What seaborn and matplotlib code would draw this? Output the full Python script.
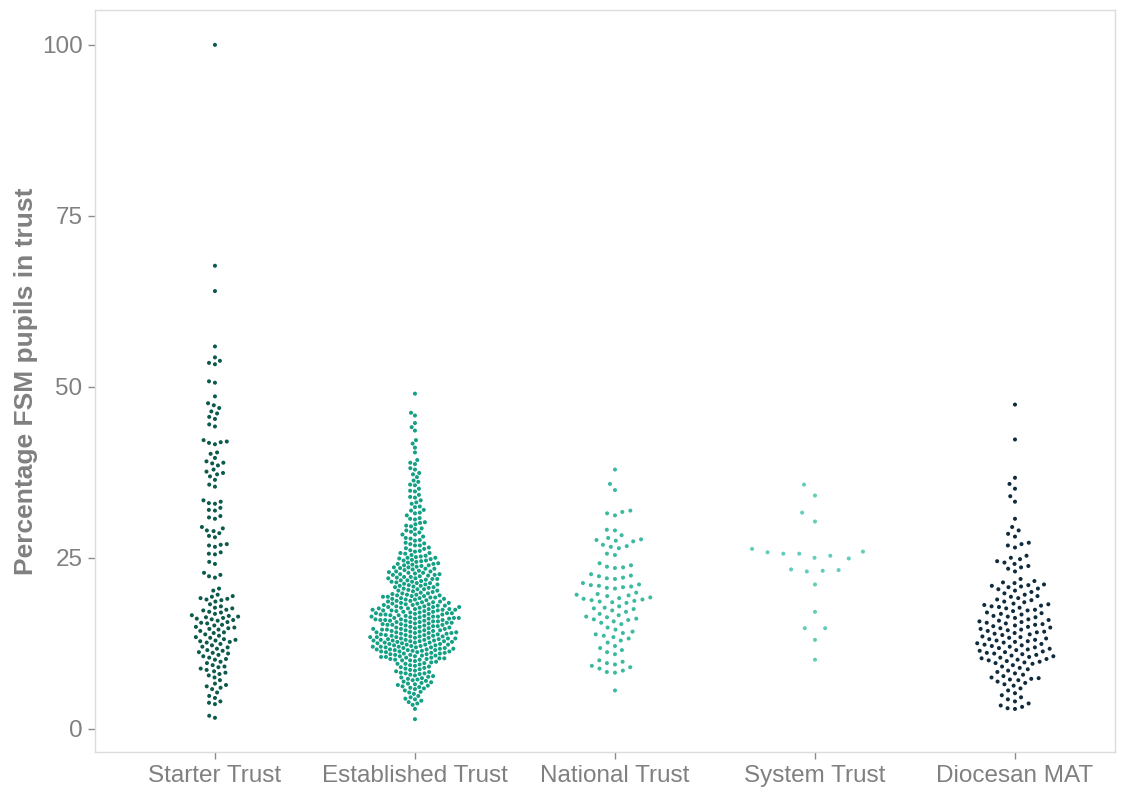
import numpy as np
import pandas as pd
import matplotlib
matplotlib.use("Agg")
import matplotlib.pyplot as plt
import seaborn as sns

# Percentage of FSM pupils per trust, grouped by trust type
categories = ["Starter Trust", "Established Trust", "National Trust", "System Trust", "Diocesan MAT"]
colours = ["#0c5a4b", "#13a084", "#3bbaa0", "#62cdb9", "#0f2b3e"]

starter = [
    100.0, 67.7, 64.0, 55.9, 54.3, 53.8, 53.5, 53.3, 50.8, 50.6, 48.6, 47.6, 47.3, 46.9,
    46.4, 46.1, 45.6, 45.3, 44.5, 44.2, 42.2, 42.0, 41.9, 41.8, 41.6, 40.4, 40.2, 39.6,
    39.1, 38.9, 38.8, 38.5, 37.9, 37.6, 37.4, 37.2, 36.9, 36.4, 35.7, 35.4, 33.4, 33.2,
    33.0, 32.9, 32.3, 32.0, 31.9, 31.1, 30.9, 30.7, 29.5, 29.3, 29.0, 28.9, 28.6, 28.2,
    28.0, 27.0, 26.9, 26.8, 26.6, 25.8, 25.6, 25.5, 24.4, 24.1, 22.8, 22.5, 22.3, 22.1,
    20.5, 20.2, 19.6, 19.4, 19.3, 19.1, 19.0, 18.9, 18.8, 18.6, 17.9, 17.6, 17.4, 17.3,
    17.1, 17.0, 16.8, 16.6, 16.5, 16.4, 16.2, 16.1, 16.0, 15.9, 15.8, 15.6, 15.4, 15.2,
    15.1, 14.9, 14.8, 14.7, 14.6, 14.5, 14.3, 14.1, 13.8, 13.6, 13.3, 13.1, 13.0, 12.9,
    12.8, 12.6, 12.4, 12.2, 12.0, 11.9, 11.7, 11.5, 11.4, 11.2, 11.0, 10.8, 10.6, 10.4,
    10.2, 10.1, 9.8, 9.6, 9.3, 9.0, 8.8, 8.6, 8.4, 8.2, 8.0, 7.8, 7.5, 7.1, 6.6, 6.4,
    6.2, 6.0, 5.8, 5.3, 4.8, 4.5, 4.0, 3.8, 3.6, 1.9, 1.6, 17.7, 16.3, 14.0, 12.7, 11.1,
    18.2, 13.4, 9.1, 15.5,
]

established_upper = [
    49.0, 46.2, 45.8, 44.7, 44.1, 43.6, 42.2, 41.7, 41.1, 40.4, 39.3, 38.9, 38.7, 38.1,
    37.9, 37.4, 37.2, 36.8, 36.3, 36.1, 35.7, 35.6, 35.1, 34.8, 34.7, 34.2, 33.9, 33.8,
    33.4, 33.1, 32.9, 32.5, 32.4, 32.0, 31.9, 31.6, 31.5, 31.2, 30.8, 30.7, 30.6, 30.2,
    30.1, 29.9, 29.7, 29.6, 29.3, 29.2, 29.0, 28.8, 28.7, 28.4, 28.4, 28.1, 27.9, 27.8,
    27.6, 27.5, 27.2, 27.1, 27.0, 26.8, 26.8, 26.5, 26.4, 26.3, 26.1, 26.0, 25.9, 25.7,
    25.7, 25.6, 25.4, 25.3, 25.2, 25.1, 25.0, 25.0,
]
established_mid = [
    21.3, 24.6, 22.8, 20.4, 23.9, 21.7, 22.2, 24.1, 20.9, 23.3, 22.5, 21.1, 24.8, 20.2,
    23.6, 22.0, 21.5, 24.3, 20.7, 23.1, 22.6, 21.9, 24.9, 20.5, 23.7, 22.3, 21.4, 24.0,
    20.1, 23.4, 22.9, 21.6, 24.5, 20.8, 23.0, 22.4, 21.2, 24.2, 20.3, 23.8, 22.1, 21.8,
    24.7, 20.6, 23.5, 22.7, 21.0, 24.4, 20.0, 23.2, 22.6, 21.3, 23.9, 20.9, 22.8, 21.7,
    24.1, 20.4, 23.4, 22.2, 21.1, 23.6, 20.7, 22.5, 21.5, 24.6, 20.2, 23.0, 22.0, 21.9,
    17.3, 15.8, 19.2, 16.4, 18.1, 15.2, 17.9, 16.8, 19.6, 15.5, 18.4, 16.1, 17.6, 19.0,
    15.9, 18.7, 16.6, 17.1, 19.4, 15.3, 18.2, 16.9, 17.4, 19.8, 15.6, 18.9, 16.2, 17.8,
    19.1, 15.1, 18.5, 16.7, 17.2, 19.5, 15.7, 18.0, 16.3, 17.5, 19.3, 15.4, 18.6, 16.0,
    17.7, 19.9, 15.0, 18.3, 16.5, 17.0, 19.7, 15.8, 18.8, 16.4, 17.3, 19.2, 15.2, 18.1,
    16.8, 17.9, 19.0, 15.6, 18.4, 16.1, 17.6, 19.4, 15.9, 18.7, 16.6, 17.1, 19.6, 15.3,
    18.2, 16.9, 17.4, 19.8, 15.5, 18.9, 16.2, 17.8, 19.1, 15.1, 18.5, 16.7, 17.2, 19.5,
    15.7, 18.0, 16.3, 17.5, 19.3, 15.4, 18.6, 16.0, 17.7, 15.0, 16.5, 17.0, 18.3, 15.8,
    16.4, 17.3, 16.9, 15.6, 17.4, 16.2, 15.2, 16.7, 17.8, 15.9, 16.1, 17.5,
]
established_lower = [
    13.4, 11.2, 14.7, 10.5, 12.8, 14.1, 11.7, 13.0, 10.1, 14.9, 12.3, 11.5, 13.7, 10.8,
    14.4, 12.0, 11.0, 13.2, 10.3, 14.6, 12.6, 11.9, 13.9, 10.6, 14.2, 12.1, 11.3, 13.5,
    10.0, 14.8, 12.5, 11.6, 13.1, 10.9, 14.0, 12.9, 11.4, 13.6, 10.4, 14.5, 12.2, 11.8,
    13.3, 10.7, 14.3, 12.7, 11.1, 13.8, 10.2, 14.7, 12.4, 11.6, 13.0, 10.5, 14.1, 12.8,
    11.2, 13.4, 10.9, 14.9, 12.0, 11.7, 13.7, 10.3, 14.4, 12.3, 11.0, 13.2, 10.8, 14.6,
    12.6, 11.5, 13.9, 10.1, 14.2, 12.9, 11.3, 13.5, 10.6, 14.8, 12.1, 11.9, 13.1, 10.0,
    14.0, 12.5, 11.4, 13.6, 10.4, 14.5, 12.2, 11.8, 13.3, 10.7, 14.3, 12.7, 11.1, 13.8,
    10.2, 14.6, 12.4, 13.0, 11.6, 12.8, 13.5, 14.1, 12.0, 11.3, 13.7, 12.6, 14.4, 11.9,
    13.2, 12.3, 14.0, 11.5, 12.9, 13.4,
    8.7, 6.2, 9.5, 7.4, 5.3, 8.1, 9.9, 6.8, 7.9, 5.8, 9.2, 8.4, 6.5, 7.1, 9.7, 5.1,
    8.9, 7.6, 6.0, 9.0, 8.2, 6.9, 7.3, 9.4, 5.6, 8.6, 7.8, 6.3, 9.8, 8.0, 6.7, 7.0,
    9.3, 5.4, 8.5, 7.5, 6.1, 9.6, 8.3, 6.6, 7.2, 9.1, 5.9, 8.8, 7.7, 6.4, 9.5, 8.1,
    4.8, 4.3, 3.9, 3.5, 4.6, 4.1, 3.7, 2.9, 4.4, 1.4,
]
established = established_upper + established_mid + established_lower

national = [
    37.9, 35.8, 34.9, 31.9, 31.7, 31.5, 31.2, 29.1, 29.0, 28.3, 27.9, 27.7, 27.6, 27.5,
    27.4, 26.9, 26.7, 26.6, 26.4, 25.6, 25.4, 24.2, 23.9, 23.7, 23.6, 23.5, 22.6, 22.4,
    22.3, 22.1, 22.0, 21.9, 21.3, 21.1, 21.0, 20.9, 20.8, 20.7, 20.6, 20.5, 19.9, 19.7,
    19.6, 19.5, 19.4, 19.2, 19.1, 19.0, 18.9, 18.8, 18.7, 18.6, 18.5, 18.4, 17.9, 17.7,
    17.6, 17.5, 17.3, 17.1, 16.8, 16.6, 16.4, 16.3, 16.1, 16.0, 15.9, 15.7, 15.5, 15.3,
    14.8, 14.5, 14.2, 14.0, 13.8, 13.6, 13.4, 13.2, 12.9, 12.6, 12.1, 11.8, 11.5, 11.2,
    10.9, 10.0, 9.8, 9.6, 9.4, 9.2, 9.0, 8.8, 8.5, 8.3, 8.2, 5.6,
]

system = [
    35.7, 34.1, 31.6, 30.3, 26.3, 25.8, 25.9, 25.6, 25.6, 25.3, 25.0, 24.9, 23.3, 23.2,
    23.0, 23.1, 21.1, 17.1, 14.7, 14.7, 13.0, 10.1,
]

diocesan = [
    47.4, 42.3, 36.7, 35.8, 35.1, 34.0, 33.2, 30.7, 29.5, 29.0, 28.5, 28.1, 27.2, 27.0,
    26.8, 26.5, 25.3, 25.0, 24.8, 24.5, 24.3, 24.1, 23.8, 23.6, 23.4, 23.0,
    21.9, 21.6, 21.4, 21.3, 21.1, 21.0, 20.9, 20.8, 20.7, 20.5, 20.4, 20.2, 20.0, 19.8,
    19.6, 19.4, 19.3, 19.1, 18.9, 18.8, 18.6, 18.5, 18.3, 18.2, 18.1, 18.0, 17.9, 17.8,
    17.7, 17.6, 17.4, 17.3, 17.2, 17.0, 16.9, 16.8, 16.7, 16.5, 16.4, 16.3, 16.2, 16.0,
    15.9, 15.8, 15.7, 15.6, 15.5, 15.4, 15.3, 15.2, 15.1, 15.0, 14.9, 14.8, 14.7, 14.6,
    14.5, 14.4, 14.3, 14.2, 14.1, 14.0, 13.9, 13.8, 13.7, 13.5, 13.4, 13.3, 13.2, 13.1,
    13.0, 12.9, 12.8, 12.7, 12.6, 12.5, 12.4, 12.3, 12.2, 12.1, 12.0, 11.9, 11.8, 11.7,
    11.6, 11.5, 11.4, 11.3, 11.2, 11.1, 11.0, 10.9, 10.8, 10.7, 10.6, 10.5, 10.4, 10.3,
    10.2, 10.1, 10.0, 9.9, 9.8, 9.7, 9.6, 9.5, 9.3, 9.1, 8.9, 8.7, 8.5, 8.3, 8.1, 7.9,
    7.7, 7.5, 7.4, 7.3, 7.2, 7.1, 6.9, 6.7, 6.5, 6.3, 5.9, 5.6, 5.2, 4.9, 4.6, 4.3,
    4.0, 3.7, 3.4, 3.2, 3.0, 2.9,
]

values = [starter, established, national, system, diocesan]
df = pd.DataFrame({
    "trust": pd.Categorical(np.repeat(categories, [len(v) for v in values]), categories=categories),
    "fsm": np.concatenate(values),
})

sns.set_theme(style="white")
plt.rcParams["font.family"] = ["Liberation Sans", "DejaVu Sans"]

fig = plt.figure(figsize=(11.25, 7.92), dpi=100)
ax = fig.add_axes([0.0844, 0.0505, 0.9067, 0.9369])

# Each group gets its own swarm; the invisible edge width sets how loosely
# the layout spaces the dots, so sparse groups fan out wider.
spacing = {"Starter Trust": 1.3, "Established Trust": 0.45, "National Trust": 2.7,
           "System Trust": 8.0, "Diocesan MAT": 2.2}
palette = dict(zip(categories, colours))
for cat in categories:
    sub = df.copy()
    sub.loc[sub["trust"] != cat, "fsm"] = np.nan
    sns.swarmplot(
        data=sub, x="trust", y="fsm", hue="trust", order=categories, hue_order=categories,
        palette=palette, size=2.9, linewidth=spacing[cat],
        legend=False, ax=ax, warn_thresh=1.0,
    )
for coll in ax.collections:
    coll.set_edgecolor("none")

ax.set_xlim(-0.6, 4.5)
ax.set_ylim(-3.4, 105.1)
ax.set_yticks([0, 25, 50, 75, 100])
ax.set_xlabel("")
ax.set_ylabel("Percentage FSM pupils in trust", fontsize=19, fontweight="bold",
              color="#808080", labelpad=3)

for side in ["top", "right", "bottom", "left"]:
    ax.spines[side].set_visible(True)
    ax.spines[side].set_color("#dcdcdc")
    ax.spines[side].set_linewidth(1.0)

ax.tick_params(axis="both", which="major", direction="out", length=5, width=1,
               color="#8c8c8c", labelcolor="#808080", labelsize=17.5, pad=4, left=True, bottom=True)
ax.grid(False)

fig.savefig("out.png", dpi=100)
